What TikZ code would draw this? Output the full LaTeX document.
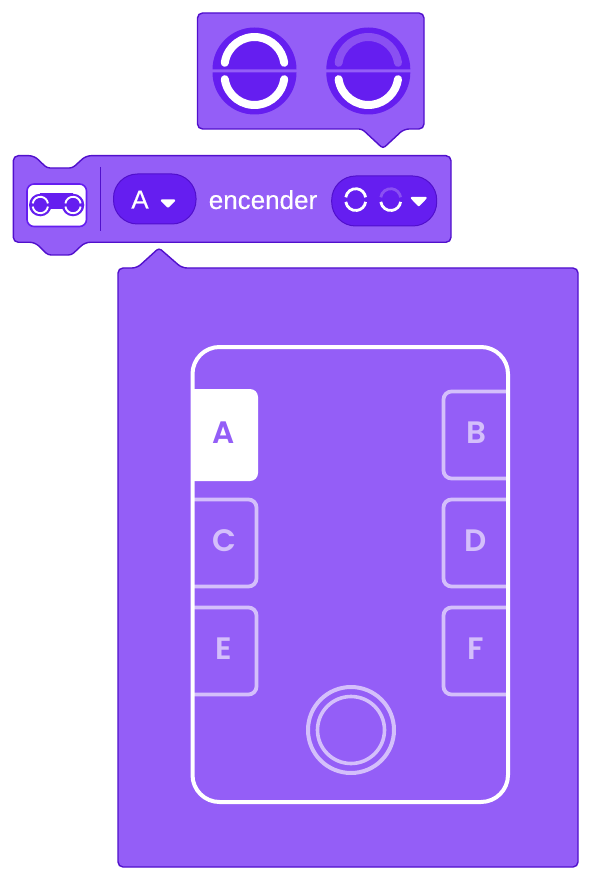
\documentclass[tikz,border=0pt]{standalone}
\usepackage{fontspec}
\setmainfont{Liberation Sans}[FakeBold=0.25]
\newfontfamily\tilefont{Poppins SemiBold}
\definecolor{blockfill}{HTML}{945EF7}
\definecolor{blockedge}{HTML}{5110CC}
\definecolor{deep}{HTML}{651EF0}
\definecolor{dimarc}{HTML}{8A50F2}
\definecolor{tilelight}{HTML}{D4BFFB}
\tikzset{
  x=1pt,y=1pt,
  blockshape/.style={fill=blockfill,draw=blockedge,line width=1.4pt,rounded corners=5pt},
  pillshape/.style={fill=deep,draw=blockedge,line width=1pt,rounded corners=24pt},
  bigarc/.style={draw=white,line width=8pt,line cap=round},
  bigdim/.style={draw=dimarc,line width=8pt,line cap=round},
  smallarc/.style={draw=white,line width=2.8pt},
  smalldim/.style={draw=dimarc,line width=2.8pt},
  hubline/.style={draw=white,line width=4pt},
  tileline/.style={draw=tilelight,line width=3.8pt,rounded corners=8pt},
  tiletext/.style={inner sep=0pt,anchor=base,text=tilelight,font=\tilefont\fontsize{31}{31}\selectfont},
  labeltext/.style={inner sep=0pt,anchor=base,text=white,font=\fontsize{26}{26}\selectfont},
  caret/.style={fill=white,draw=white,line width=2.4pt,line join=round}
}
\begin{document}
\begin{tikzpicture}
\useasboundingbox (0,0) rectangle (596,-882);
\fill[white] (0,0) rectangle (596,-882);

% top bubble
\path[blockshape] (197.5,-13) -- (424,-13) -- (424,-129) -- (404,-129)
  [rounded corners=3pt] -- (383,-148.5) -- (362,-129) [rounded corners=5pt] -- (197.5,-129) -- cycle;
\foreach \cx/\upper in {254.5/bigarc,368.3/bigdim}{
  \fill[deep] (\cx-42,-69.5) arc[start angle=180,end angle=0,radius=42] -- cycle;
  \fill[deep] (\cx-42,-72.5) arc[start angle=180,end angle=360,radius=42] -- cycle;
  \draw[\upper] (\cx,-67) ++(172:30) arc[start angle=172,end angle=8,radius=30];
  \draw[bigarc] (\cx,-75) ++(188:30) arc[start angle=188,end angle=352,radius=30];
}

% popup
\path[blockshape] (118,-268) -- (137,-268) [rounded corners=3pt] -- (159,-248) [rounded corners=5pt] -- (182,-268)
  -- (578,-268) -- (578,-867) -- (118,-867) -- cycle;

% main block
\path[blockshape] (13.3,-155.7) -- (34,-155.7) [rounded corners=3pt] -- (47,-168) -- (72.5,-168) [rounded corners=5pt] -- (86,-155.7)
  -- (451,-155.7) -- (451,-242.3) -- (85,-242.3) [rounded corners=3pt] -- (71.5,-255) -- (48,-255) [rounded corners=5pt] -- (35,-242.3)
  -- (13.3,-242.3) -- cycle;
\draw[draw=blockedge,line width=1pt] (100,-167) -- (100,-231);

% sensor icon
\draw[fill=white,draw=deep,line width=1.6pt,rounded corners=7pt] (27,-184) rectangle (86.5,-226.5);
\fill[deep] (40.3,-193.5) rectangle (73,-209);
\foreach \ix in {40.3,73}{
  \fill[deep] (\ix,-205) circle[radius=11.3];
  \draw[smallarc,line width=1.9pt] (\ix,-204.5) ++(172:7.7) arc[start angle=172,end angle=8,radius=7.7];
  \draw[smallarc,line width=1.9pt] (\ix,-205.5) ++(188:7.7) arc[start angle=188,end angle=352,radius=7.7];
}

% port pill
\path[pillshape] (113.5,-174) rectangle (196,-224);
\node[labeltext] (portname) at (140,-208.5) {A};
\path[caret] (162,-200.5) -- (174,-200.5) -- (168,-206.5) -- cycle;

\node[labeltext] (verb) at (263,-209) {encender};

% state pill
\path[pillshape] (331.7,-176) rectangle (436.7,-226);
\draw[smallarc] (355.7,-198.7) ++(172:10) arc[start angle=172,end angle=8,radius=10];
\draw[smallarc] (355.7,-200.5) ++(188:10) arc[start angle=188,end angle=352,radius=10];
\draw[smalldim] (390.7,-198.7) ++(172:10) arc[start angle=172,end angle=8,radius=10];
\draw[smallarc] (390.7,-200.5) ++(188:10) arc[start angle=188,end angle=352,radius=10];
\path[caret] (412,-198) -- (425.5,-198) -- (418.7,-205) -- cycle;

% hub
\fill[white,rounded corners=8pt] (185,-389) rectangle (258,-481);
\fill[blockfill] (180,-380) rectangle (190.5,-490);
\draw[tileline] (192.5,-499.5) -- (256.5,-499.5) -- (256.5,-586.5) -- (192.5,-586.5);
\draw[tileline] (192.5,-607.5) -- (256.5,-607.5) -- (256.5,-694.5) -- (192.5,-694.5);
\draw[tileline] (508,-391.5) -- (443.5,-391.5) -- (443.5,-478.5) -- (508,-478.5);
\draw[tileline] (508,-499.5) -- (443.5,-499.5) -- (443.5,-586.5) -- (508,-586.5);
\draw[tileline] (508,-607.5) -- (443.5,-607.5) -- (443.5,-694.5) -- (508,-694.5);
\draw[hubline,rounded corners=27pt] (192.5,-347) rectangle (508,-802);
\node[tiletext,text=blockfill] (tileA) at (224,-443) {A};
\node[tiletext] (tileB) at (476,-443) {B};
\node[tiletext] (tileC) at (224,-551) {C};
\node[tiletext] (tileD) at (476,-551) {D};
\node[tiletext] (tileE) at (224,-659) {E};
\node[tiletext] (tileF) at (476,-659) {F};
\draw[draw=tilelight,line width=4pt] (351,-730) circle[radius=43];
\draw[draw=tilelight,line width=3.6pt] (351,-730) circle[radius=33.5];
\end{tikzpicture}
\end{document}
